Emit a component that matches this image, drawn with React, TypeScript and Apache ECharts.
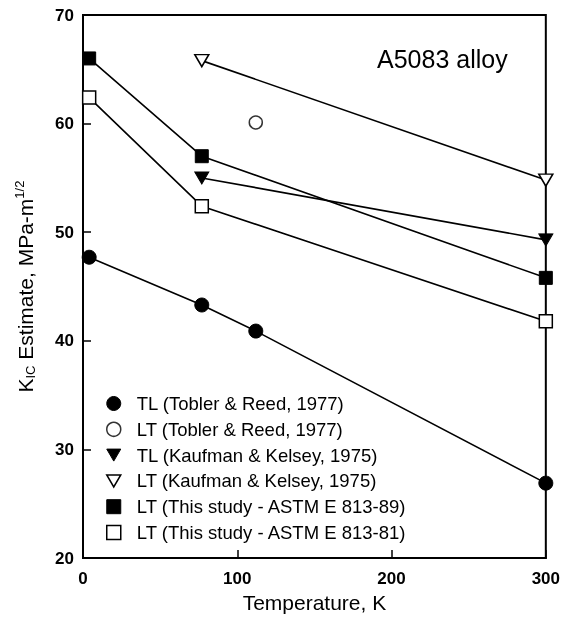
import React, { useEffect, useRef } from "react";
import * as echarts from "echarts";

const xTicks = [0, 100, 200, 300];
const yTicks = [20, 30, 40, 50, 60, 70];

const tlToblerX = [4, 77, 112, 300];
const tlToblerY = [47.7, 43.3, 40.9, 26.9];
const ltToblerX = [112];
const ltToblerY = [60.1];
const tlKaufX = [77, 300];
const tlKaufY = [55.0, 49.3];
const ltKaufX = [77, 300];
const ltKaufY = [65.8, 54.8];
const lt89X = [4, 77, 300];
const lt89Y = [66.0, 57.0, 45.8];
const lt81X = [4, 77, 300];
const lt81Y = [62.4, 52.4, 41.8];

const names = [
  "TL (Tobler & Reed, 1977)",
  "LT (Tobler & Reed, 1977)",
  "TL (Kaufman & Kelsey, 1975)",
  "LT (Kaufman & Kelsey, 1975)",
  "LT (This study - ASTM E 813-89)",
  "LT (This study - ASTM E 813-81)",
];

const DOWN_TRI = "path://M0,0L14,0L7,12Z";
const FONT = "Liberation Sans, Arial, sans-serif";

const zip = (xs: number[], ys: number[]) => xs.map((x, i) => [x, ys[i]]);

const filled = { color: "#000", borderColor: "#000", borderWidth: 1 };
const open = { color: "#fff", borderColor: "#000", borderWidth: 1.5 };

export default function App() {
  const ref = useRef<HTMLDivElement>(null);
  useEffect(() => {
    if (!ref.current) return;
    const chart = echarts.init(ref.current, null, { renderer: "svg" });
    const lineStyle = { color: "#000", width: 1.6 };
    const mk = (name: string, xs: number[], ys: number[], symbol: string, size: any, style: any, type = "line") => ({
      name,
      type,
      data: zip(xs, ys),
      symbol,
      symbolSize: size,
      itemStyle: style,
      lineStyle,
      showSymbol: true,
      z: 3,
    });
    const legendIcons = ["circle", "circle", DOWN_TRI, DOWN_TRI, "rect", "rect"];
    const legendStyles = [filled, open, filled, open, filled, open];
    chart.setOption({
      animation: false,
      grid: {
        left: 83,
        right: 13,
        top: 15,
        bottom: 59,
        show: true,
        borderColor: "#000",
        borderWidth: 2,
      },
      xAxis: {
        type: "value",
        min: 0,
        max: 300,
        interval: 100,
        name: "Temperature, K",
        nameLocation: "middle",
        nameGap: 30,
        nameTextStyle: { fontFamily: FONT, fontSize: 21, color: "#000" },
        axisLine: { show: true, lineStyle: { color: "#000", width: 2 } },
        axisTick: { show: true, inside: true, length: 8, lineStyle: { color: "#000", width: 1.5 } },
        axisLabel: {
          fontFamily: FONT,
          fontSize: 17,
          fontWeight: "bold",
          color: "#000",
          margin: 12,
          formatter: (v: number) => (xTicks.includes(v) ? String(v) : ""),
        },
        splitLine: { show: false },
      },
      yAxis: {
        type: "value",
        min: 20,
        max: 70,
        interval: 10,
        name: "K{sub|IC} Estimate, MPa-m{sup|1/2}",
        nameLocation: "middle",
        nameGap: 46,
        nameRotate: 90,
        nameTextStyle: {
          fontFamily: FONT,
          fontSize: 21,
          color: "#000",
          rich: {
            sub: { fontFamily: FONT, fontSize: 13, color: "#000", verticalAlign: "bottom", lineHeight: 24 },
            sup: { fontFamily: FONT, fontSize: 13, color: "#000", verticalAlign: "top", lineHeight: 24 },
          },
        },
        axisLine: { show: true, lineStyle: { color: "#000", width: 2 } },
        axisTick: { show: true, inside: true, length: 8, lineStyle: { color: "#000", width: 1.5 } },
        axisLabel: {
          fontFamily: FONT,
          fontSize: 17,
          fontWeight: "bold",
          color: "#000",
          margin: 9,
          formatter: (v: number) => (yTicks.includes(v) ? String(v) : ""),
        },
        splitLine: { show: false },
      },
      legend: {
        orient: "vertical",
        left: 101,
        top: 389,
        itemWidth: 14,
        itemHeight: 14,
        itemGap: 6.8,
        selectedMode: false,
        textStyle: { fontFamily: FONT, fontSize: 18.5, color: "#000", padding: [0, 0, 0, 11] },
        data: names.map((n, i) => ({ name: n, icon: legendIcons[i], itemStyle: legendStyles[i] })),
      },
      graphic: [
        {
          type: "text",
          left: 377,
          top: 46,
          style: { text: "A5083 alloy", font: `25px ${FONT}`, fill: "#000" },
        },
      ],
      series: [
        mk(names[0], tlToblerX, tlToblerY, "circle", 14, filled),
        mk(names[1], ltToblerX, ltToblerY, "circle", 13, open, "scatter"),
        mk(names[2], tlKaufX, tlKaufY, DOWN_TRI, [14, 12], filled),
        mk(names[3], ltKaufX, ltKaufY, DOWN_TRI, [14, 12], open),
        mk(names[4], lt89X, lt89Y, "rect", 13, filled),
        mk(names[5], lt81X, lt81Y, "rect", 13, open),
      ],
    });
    return () => chart.dispose();
  }, []);
  return <div ref={ref} style={{ position: "fixed", left: 0, top: 0, width: 563, height: 618 }} />;
}
